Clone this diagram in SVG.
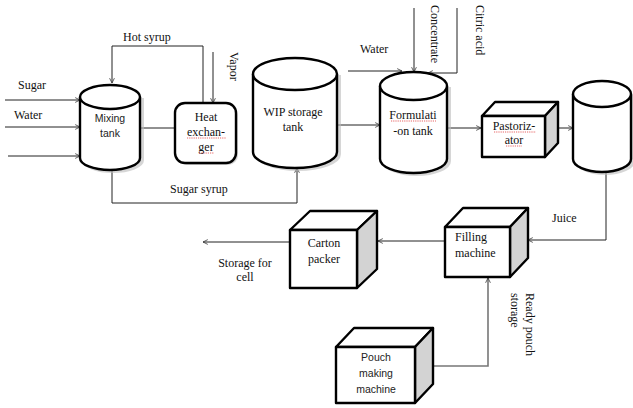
<svg xmlns="http://www.w3.org/2000/svg" width="633" height="408" viewBox="0 0 633 408">
<defs>
<marker id="arr" viewBox="0 0 10 10" refX="9" refY="5" markerWidth="6" markerHeight="6" orient="auto" markerUnits="userSpaceOnUse">
<path d="M1,1 L9,5 L1,9" fill="none" stroke="#333" stroke-width="1.3"/>
</marker>
</defs>
<style>
.ln{fill:none;stroke:#222;stroke-width:1}
.lg{fill:none;stroke:#777;stroke-width:1.6}
.cyl{fill:#fff;stroke:#000;stroke-width:2.4}
.sh{fill:#bbb;stroke:#bbb;stroke-width:2;opacity:0.6}
.box{fill:#fff;stroke:#000;stroke-width:2.4;stroke-linejoin:round}
.side{fill:#d3d3d3;stroke:#000;stroke-width:2.4;stroke-linejoin:round}
.t{font-family:"Liberation Serif",serif;font-size:12px;fill:#111}
.s{font-family:"Liberation Sans",sans-serif;font-size:10.5px;fill:#222}
.c{text-anchor:middle}
.sq{fill:none;stroke:#d22;stroke-width:0.7;stroke-dasharray:1.2 1}
</style>
<g id="connectors">
<polyline class="ln" points="5,100 80,100" marker-end="url(#arr)"/>
<polyline class="ln" points="5,127 80,127" marker-end="url(#arr)"/>
<polyline class="ln" points="8,156 80,156" marker-end="url(#arr)"/>
<line class="ln" x1="140" y1="128" x2="175" y2="128"/>
<polyline class="ln" points="203,103 203,46 112,46 112,83" marker-end="url(#arr)"/>
<polyline class="ln" points="213,52 213,103" marker-end="url(#arr)"/>
<polyline class="ln" points="112,170 112,203 297,203 297,168" marker-end="url(#arr)"/>
<polyline class="ln" points="337,125 380,125" marker-end="url(#arr)"/>
<polyline class="ln" points="348,71 402,71" marker-end="url(#arr)"/>
<polyline class="ln" points="414,8 414,72" marker-end="url(#arr)"/>
<polyline class="ln" points="457,8 457,73 428,73" marker-end="url(#arr)"/>
<polyline class="ln" points="447,128 481,128" marker-end="url(#arr)"/>
<polyline class="ln" points="558,128 573,128" marker-end="url(#arr)"/>
<polyline class="ln" points="606,172 606,240 528,240" marker-end="url(#arr)"/>
<polyline class="ln" points="445,241 378,241" marker-end="url(#arr)"/>
<polyline class="ln" points="290,242 203,242" marker-end="url(#arr)"/>
<polyline class="lg" points="433,366 488,366 488,278" marker-end="url(#arr)"/>
</g>
<g id="labels">
<text class="t" x="18" y="89">Sugar</text>
<text class="t" x="14" y="119">Water</text>
<text class="t" x="123" y="41">Hot syrup</text>
<text class="t" transform="translate(230,52) rotate(90)">Vapor</text>
<text class="t" x="170" y="193">Sugar syrup</text>
<text class="t" x="360" y="53">Water</text>
<text class="t" transform="translate(431,5) rotate(90)">Concentrate</text>
<text class="t" transform="translate(476,5) rotate(90)">Citric acid</text>
<text class="t" x="552" y="222">Juice</text>
<text class="t c" x="245" y="267">Storage for</text>
<text class="t c" x="245" y="281">cell</text>
<text class="t" transform="translate(526,293) rotate(90)">Ready pouch</text>
<text class="t" transform="translate(511,293) rotate(90)">storage</text>
</g>
<g id="mixing-tank">
<path class="sh" d="M83,99 L83,160 A30,12 0 0 0 143,160 L143,99 Z"/>
<path class="cyl" d="M80,97 L80,158 A30,12 0 0 0 140,158 L140,97"/>
<ellipse class="cyl" cx="110" cy="97" rx="30" ry="12"/>
<text class="s c" x="110" y="122">Mixing</text>
<text class="s c" x="110" y="137">tank</text>
</g>
<g id="heat-exchanger">
<rect x="177" y="105" width="61" height="60" rx="10" fill="#aaa" opacity="0.5"/>
<rect class="cyl" x="175" y="103" width="61" height="60" rx="10"/>
<text class="t c" x="206" y="121">Heat</text>
<text class="t c" x="206" y="136">exchan-</text>
<text class="t c" x="206" y="151">ger</text>
<path class="sq" d="M187,138 L226,138 M199,153 L214,153"/>
</g>
<g id="wip-storage-tank">
<path class="sh" d="M256,76 L256,154 A42,16 0 0 0 340,154 L340,76 Z"/>
<path class="cyl" d="M253,74 L253,152 A42,16 0 0 0 337,152 L337,74"/>
<ellipse class="cyl" cx="295" cy="74" rx="42" ry="16"/>
<text class="t c" x="293" y="116">WIP storage</text>
<text class="t c" x="293" y="131">tank</text>
</g>
<g id="formulation-tank">
<path class="sh" d="M383,88 L383,161 A33.5,14 0 0 0 450,161 L450,88 Z"/>
<path class="cyl" d="M380,86 L380,159 A33.5,14 0 0 0 447,159 L447,86"/>
<ellipse class="cyl" cx="413.5" cy="86" rx="33.5" ry="14"/>
<text class="t c" x="413" y="119">Formulati</text>
<text class="t c" x="413" y="135">-on tank</text>
<path class="sq" d="M391,121 L436,121"/>
</g>
<g id="pastorizator">
<polygon class="box" points="482,116 495,102 558,102 545,116"/>
<polygon class="side" points="545,116 558,102 558,143 545,157"/>
<rect class="box" x="482" y="116" width="63" height="41"/>
<text class="t c" x="514" y="130">Pastoriz-</text>
<text class="t c" x="514" y="144">ator</text>
<path class="sq" d="M494,132 L536,132 M506,146 L522,146"/>
</g>
<g id="juice-tank">
<path class="sh" d="M576,96 L576,161 A29,13 0 0 0 634,161 L634,96 Z"/>
<path class="cyl" d="M573,94 L573,159 A29,13 0 0 0 631,159 L631,94"/>
<ellipse class="cyl" cx="602" cy="94" rx="29" ry="13"/>
</g>
<g id="filling-machine">
<polygon class="box" points="445,227 463,208 528,208 510,227"/>
<polygon class="side" points="510,227 528,208 528,258 510,277"/>
<rect class="box" x="445" y="227" width="65" height="50"/>
<text class="t" x="455" y="241" font-size="13">Filling</text>
<text class="t" x="455" y="257" font-size="13">machine</text>
</g>
<g id="carton-packer">
<polygon class="box" points="290,230 310,211 377,211 357,230"/>
<polygon class="side" points="357,230 377,211 377,269 357,288"/>
<rect class="box" x="290" y="230" width="67" height="58"/>
<text class="t c" x="324" y="247">Carton</text>
<text class="t c" x="324" y="263">packer</text>
</g>
<g id="pouch-making-machine">
<polygon class="box" points="336,347 354,328 433,328 415,347"/>
<polygon class="side" points="415,347 433,328 433,384 415,403"/>
<rect class="box" x="336" y="347" width="79" height="56"/>
<text class="s c" x="376" y="361">Pouch</text>
<text class="s c" x="376" y="377">making</text>
<text class="s c" x="376" y="393">machine</text>
</g>
</svg>
